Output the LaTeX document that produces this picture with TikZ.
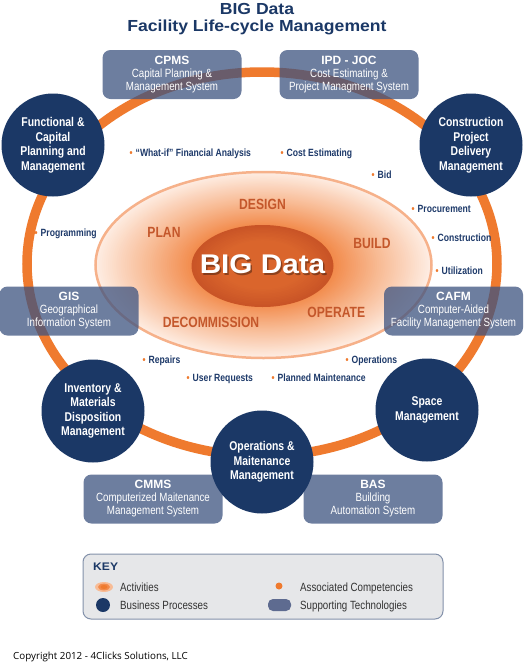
\documentclass[tikz,border=0pt]{standalone}
\usepackage{fontspec}
\setmainfont{Liberation Sans}
\newfontfamily\wideb[FakeStretch=1.1]{Liberation Sans}
\newfontfamily\cond[FakeStretch=0.82]{Liberation Sans}
\newfontfamily\copyfont{Open Sans}
\usetikzlibrary{shapes.geometric}
\definecolor{bdnavy}{HTML}{1B3866}
\definecolor{compnavy}{HTML}{1E3A6A}
\definecolor{ringor}{HTML}{EF7A2E}
\definecolor{techfill}{HTML}{3D5380}
\definecolor{actred}{HTML}{C4572B}
\definecolor{actA}{HTML}{F28A4A}
\definecolor{actB}{HTML}{F8BC96}
\definecolor{actC}{HTML}{FEEDE3}
\definecolor{actedge}{HTML}{F6B18A}
\definecolor{bigA}{HTML}{DA652C}
\definecolor{bigB}{HTML}{C95426}
\definecolor{keygray}{HTML}{E6E7E9}
\definecolor{keyedge}{HTML}{8391AA}
\definecolor{keytext}{HTML}{333333}
\definecolor{suppfill}{HTML}{5E6B90}
\newcommand\bul{\textcolor{ringor}{•}\hspace{3pt}}
\newcommand\techtitle[1]{{\normalfont\bfseries\fontsize{12}{13}\selectfont #1}}
\begin{document}
\begin{tikzpicture}[x=1pt,y=-1pt,
  titletext/.style={inner sep=0pt, text=bdnavy, font=\wideb\bfseries\fontsize{16}{18}\selectfont, text height=11.5pt, text depth=0pt},
  ring/.style={draw=ringor, line width=9.5pt},
  proc/.style={circle, fill=bdnavy, minimum size=103pt, inner sep=0pt, text=white, align=center, font=\cond\bfseries\fontsize{12.7}{14.5}\selectfont},
  tech/.style={rectangle, rounded corners=8pt, fill=techfill, fill opacity=0.75, text opacity=1, text=white, minimum width=139pt, minimum height=49pt, align=center, inner sep=0pt, font=\cond\fontsize{11.9}{13}\selectfont},
  comp/.style={anchor=west, inner sep=0pt, text=compnavy, font=\cond\bfseries\fontsize{10.5}{12}\selectfont, text height=7.5pt, text depth=0pt},
  act/.style={inner sep=0pt, text=actred, font=\cond\bfseries\fontsize{14.8}{16}\selectfont, text height=10.6pt, text depth=0pt},
  keytxt/.style={anchor=west, inner sep=0pt, text=keytext, font=\cond\fontsize{11.9}{13}\selectfont, text height=8.5pt, text depth=0pt}
]
\useasboundingbox (0,0) rectangle (525,665);
\fill[white] (0,0) rectangle (525,665);

% title
\node[titletext] (t1) at (257,8.5) {BIG Data};
\node[titletext] (t2) at (257,25.8) {Facility Life-cycle Management};

% life-cycle ring
\draw[ring] (262,264) ellipse [x radius=235pt, y radius=192pt];

% activities ellipse: concentric gradient
\foreach \i in {0,...,48}{
  \pgfmathsetmacro\f{1-\i/80}
  \pgfmathsetmacro\rx{168*\f}
  \pgfmathsetmacro\ry{93*\f}
  \ifdim\f pt>0.7pt
    \pgfmathsetmacro\p{(\f-0.7)/0.3*100}
    \fill[actC!\p!actB] (263.5,265) ellipse [x radius=\rx pt, y radius=\ry pt];
  \else
    \pgfmathsetmacro\p{max(0,(\f-0.42)/0.28*100)}
    \fill[actB!\p!actA] (263.5,265) ellipse [x radius=\rx pt, y radius=\ry pt];
  \fi
}
\draw[actedge, line width=2.5pt] (263.5,265) ellipse [x radius=168pt, y radius=93pt];
% BIG Data core
\foreach \i in {0,...,12}{
  \pgfmathsetmacro\f{1-\i/30}
  \pgfmathsetmacro\p{100*\i/12}
  \fill[bigA!\p!bigB] (262.5,{266-3*(1-\f)}) ellipse [x radius={71*\f pt}, y radius={41*\f pt}];
}
\node[inner sep=0pt, text=black, opacity=0.35, font=\wideb\bfseries\fontsize{27}{30}\selectfont, text height=19.3pt, text depth=0pt] (bigshadow) at (264,265.5) {BIG Data};
\node[inner sep=0pt, text=white, font=\wideb\bfseries\fontsize{27}{30}\selectfont, text height=19.3pt, text depth=0pt] (big) at (262.5,264) {BIG Data};

\node[act] (design) at (262.5,203.8) {DESIGN};
\node[act] (plan) at (164,232) {PLAN};
\node[act] (build) at (372,243) {BUILD};
\node[act] (operate) at (336.3,312) {OPERATE};
\node[act] (decom) at (211,322) {DECOMMISSION};

% supporting technologies
\node[tech] (cpms) at (172,74.5) {\techtitle{CPMS}\\Capital Planning \&\\Management System};
\node[tech] (ipd) at (349,74.5) {\techtitle{IPD - JOC}\\Cost Estimating \&\\Project Managment System};
\node[tech] (gis) at (69,311) {\techtitle{GIS}\\Geographical\\Information System};
\node[tech] (cafm) at (453.5,311) {\techtitle{CAFM}\\Computer-Aided\\Facility Management System};
\node[tech] (cmms) at (153,499) {\techtitle{CMMS}\\Computerized Maitenance\\Management System};
\node[tech] (bas) at (373,499) {\techtitle{BAS}\\Building\\Automation System};

% business processes
\node[proc] (fcp) at (53,145) {Functional \&\\Capital\\Planning and\\Management};
\node[proc] (cpd) at (471,145) {Construction\\Project\\Delivery\\Management};
\node[proc] (inv) at (93,411) {Inventory \&\\Materials\\Disposition\\Management};
\node[proc] (space) at (427,410) {Space\\Management};
\node[proc] (om) at (262,462) {Operations \&\\Maitenance\\Management};

% associated competencies
\node[comp] (whatif) at (129.5,153) {\bul “What-if” Financial Analysis};
\node[comp] (cost) at (280.5,153) {\bul Cost Estimating};
\node[comp] (bid) at (371.5,175) {\bul Bid};
\node[comp] (procure) at (411.5,209) {\bul Procurement};
\node[comp] (prog) at (34.5,233) {\bul Programming};
\node[comp] (constr) at (431.5,238) {\bul Construction};
\node[comp] (util) at (435.5,271) {\bul Utilization};
\node[comp] (repairs) at (142.5,360) {\bul Repairs};
\node[comp] (ops) at (345.5,360) {\bul Operations};
\node[comp] (user) at (186.5,378) {\bul User Requests};
\node[comp] (planned) at (271.5,378) {\bul Planned Maintenance};

% key
\node[rectangle, rounded corners=8pt, fill=keygray, draw=keyedge, line width=1pt, minimum width=360pt, minimum height=65pt, inner sep=0pt] (key) at (263,586.5) {};
\node[anchor=west, inner sep=0pt, text=bdnavy, font=\wideb\bfseries\fontsize{11}{13}\selectfont, text height=8pt, text depth=0pt] (keyhead) at (93,566) {KEY};
\fill[actB] (104,587) ellipse [x radius=9pt, y radius=5pt];
\fill[actA] (104,587) ellipse [x radius=6pt, y radius=3.4pt];
\fill[ringor] (104,587) ellipse [x radius=3.5pt, y radius=2pt];
\fill[bdnavy] (103,605) circle [radius=7pt];
\fill[ringor] (279,586) circle [radius=3.5pt];
\fill[suppfill, rounded corners=5pt] (268,599) rectangle (291,611);
\node[keytxt] (kact) at (120,587) {Activities};
\node[keytxt] (kbus) at (120,605) {Business Processes};
\node[keytxt] (kass) at (300,587) {Associated Competencies};
\node[keytxt] (ksup) at (300,605) {Supporting Technologies};

% copyright
\node[anchor=west, inner sep=0pt, text=black, font=\copyfont\fontsize{9.8}{12}\selectfont, text height=7pt, text depth=0pt] (copy) at (13,655.5) {Copyright 2012 - 4Clicks Solutions, LLC};
\end{tikzpicture}
\end{document}
